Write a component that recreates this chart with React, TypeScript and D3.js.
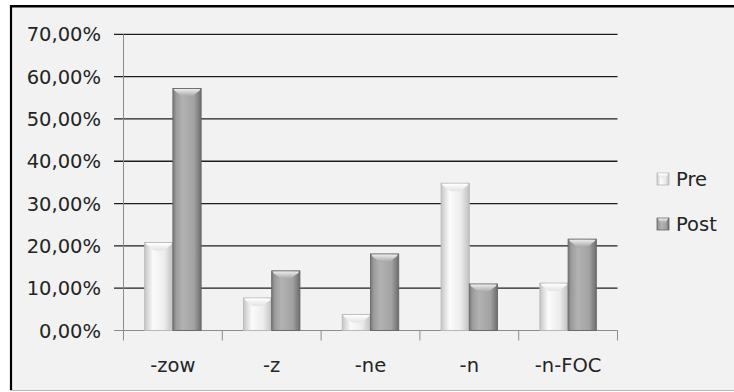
import React from "react";
import * as d3 from "d3";

const categories = ["-zow", "-z", "-ne", "-n", "-n-FOC"];
const seriesNames = ["Pre", "Post"];
const preValues = [20.8, 7.7, 3.8, 34.8, 11.2];
const postValues = [57.2, 14.1, 18.1, 11.0, 21.6];
const yTicks = [0, 10, 20, 30, 40, 50, 60, 70];

const W = 734;
const H = 392;
const FONT = "'DejaVu Sans', Verdana, sans-serif";
const TEXT = "#242424";

const formatPct = (v: number) => v.toFixed(2).replace(".", ",") + "%";

export default function App() {
  const x = d3.scaleBand<string>().domain(categories).range([123.5, 617.5]).padding(0);
  const xs = d3
    .scaleBand<string>()
    .domain(seriesNames)
    .range([0, x.bandwidth()])
    .paddingInner(0)
    .paddingOuter(0.75);
  const y = d3.scaleLinear().domain([0, 70]).range([330.5, 34.3]);

  const series = [
    { name: "Pre", values: preValues, fill: "url(#gPre)", stroke: "#b8b8b8", bevel: "url(#gBevelPre)" },
    { name: "Post", values: postValues, fill: "url(#gPost)", stroke: "#666666", bevel: "url(#gBevelPost)" },
  ];

  const bw = xs.bandwidth();

  // top bevel: a wide downward chevron across the bar's top
  const bevelPoints = (x0: number, y0: number, w: number, d: number) =>
    [
      [x0 + 0.8, y0 + 0.6],
      [x0 + w - 0.8, y0 + 0.6],
      [x0 + w - 2, y0 + Math.min(2.5, d)],
      [x0 + w * 0.66, y0 + d],
      [x0 + w * 0.34, y0 + d],
      [x0 + 2, y0 + Math.min(2.5, d)],
    ]
      .map((p) => p.join(","))
      .join(" ");

  return (
    <svg
      width={W}
      height={H}
      style={{ position: "absolute", left: 0, top: 0, display: "block" }}
      fontFamily={FONT}
    >
      <defs>
        <linearGradient id="gPre" x1="0" x2="1" y1="0" y2="0">
          <stop offset="0" stopColor="#c6c6c6" />
          <stop offset="0.3" stopColor="#fbfbfb" />
          <stop offset="0.7" stopColor="#ececec" />
          <stop offset="1" stopColor="#c0c0c0" />
        </linearGradient>
        <linearGradient id="gPost" x1="0" x2="1" y1="0" y2="0">
          <stop offset="0" stopColor="#7a7a7a" />
          <stop offset="0.12" stopColor="#9c9c9c" />
          <stop offset="0.35" stopColor="#b2b2b2" />
          <stop offset="0.75" stopColor="#a2a2a2" />
          <stop offset="1" stopColor="#6c6c6c" />
        </linearGradient>
        <linearGradient id="gBevelPre" x1="0" x2="0" y1="0" y2="1">
          <stop offset="0" stopColor="#ffffff" />
          <stop offset="1" stopColor="#e2e2e2" />
        </linearGradient>
        <linearGradient id="gBevelPost" x1="0" x2="0" y1="0" y2="1">
          <stop offset="0" stopColor="#ececec" />
          <stop offset="1" stopColor="#a6a6a6" />
        </linearGradient>
      </defs>

      {/* frame */}
      <rect x={0} y={0} width={W} height={H} fill="#ffffff" />
      <rect x={11} y={6} width={W - 11} height={384} fill="#f2f2f2" />
      <line x1={10} x2={W} y1={6.3} y2={6.3} stroke="#000" strokeWidth={2.6} />
      <line x1={11} x2={11} y1={5} y2={390} stroke="#000" strokeWidth={2.2} />
      <line x1={10} x2={W} y1={390.5} y2={390.5} stroke="#b8b8b8" strokeWidth={1} />

      {/* gridlines + y ticks */}
      {yTicks.map((t) => (
        <g key={t}>
          {t > 0 && (
            <line x1={114} x2={617.5} y1={y(t)} y2={y(t)} stroke="#1e1e1e" strokeWidth={1.3} />
          )}
          {t === 0 && <line x1={114} x2={123.5} y1={y(t)} y2={y(t)} stroke="#8c8c8c" strokeWidth={1} />}
          <text x={101} y={y(t)} dy="0.36em" textAnchor="end" fontSize={19.5} fill={TEXT}>
            {formatPct(t)}
          </text>
        </g>
      ))}

      {/* axes */}
      <line x1={123.5} x2={123.5} y1={y(70)} y2={y(0)} stroke="#8c8c8c" strokeWidth={1} />
      <line x1={123.5} x2={617.5} y1={y(0)} y2={y(0)} stroke="#8c8c8c" strokeWidth={1} />
      {categories.map((c) => (
        <line
          key={"t" + c}
          x1={(x(c) as number) + x.bandwidth()}
          x2={(x(c) as number) + x.bandwidth()}
          y1={y(0)}
          y2={y(0) + 10}
          stroke="#8c8c8c"
          strokeWidth={1}
        />
      ))}
      <line x1={123.5} x2={123.5} y1={y(0)} y2={y(0) + 10} stroke="#8c8c8c" strokeWidth={1} />

      {/* bars */}
      {series.map((s) =>
        categories.map((c, i) => {
          const x0 = (x(c) as number) + (xs(s.name) as number);
          const y0 = y(s.values[i]);
          const h = y(0) - y0;
          const bev = Math.min(8, h);
          return (
            <g key={s.name + c}>
              <rect x={x0} y={y0} width={bw} height={h} fill={s.fill} stroke={s.stroke} strokeWidth={0.9} />
              <polygon points={bevelPoints(x0, y0, bw, bev)} fill={s.bevel} />
            </g>
          );
        })
      )}

      {/* category labels */}
      {categories.map((c) => (
        <text
          key={"l" + c}
          x={(x(c) as number) + x.bandwidth() / 2}
          y={372}
          textAnchor="middle"
          fontSize={19.5}
          fill={TEXT}
        >
          {c}
        </text>
      ))}

      {/* legend */}
      {series.map((s, i) => {
        const cy = 179 + i * 45;
        return (
          <g key={"lg" + s.name}>
            <rect x={657} y={cy - 6} width={12} height={12} fill={s.fill} stroke={s.stroke} strokeWidth={0.8} />
            <polygon points={bevelPoints(657, cy - 6, 12, 5)} fill={s.bevel} />
            <text x={676} y={cy + 7} fontSize={19.5} fill={TEXT}>
              {s.name}
            </text>
          </g>
        );
      })}
    </svg>
  );
}
